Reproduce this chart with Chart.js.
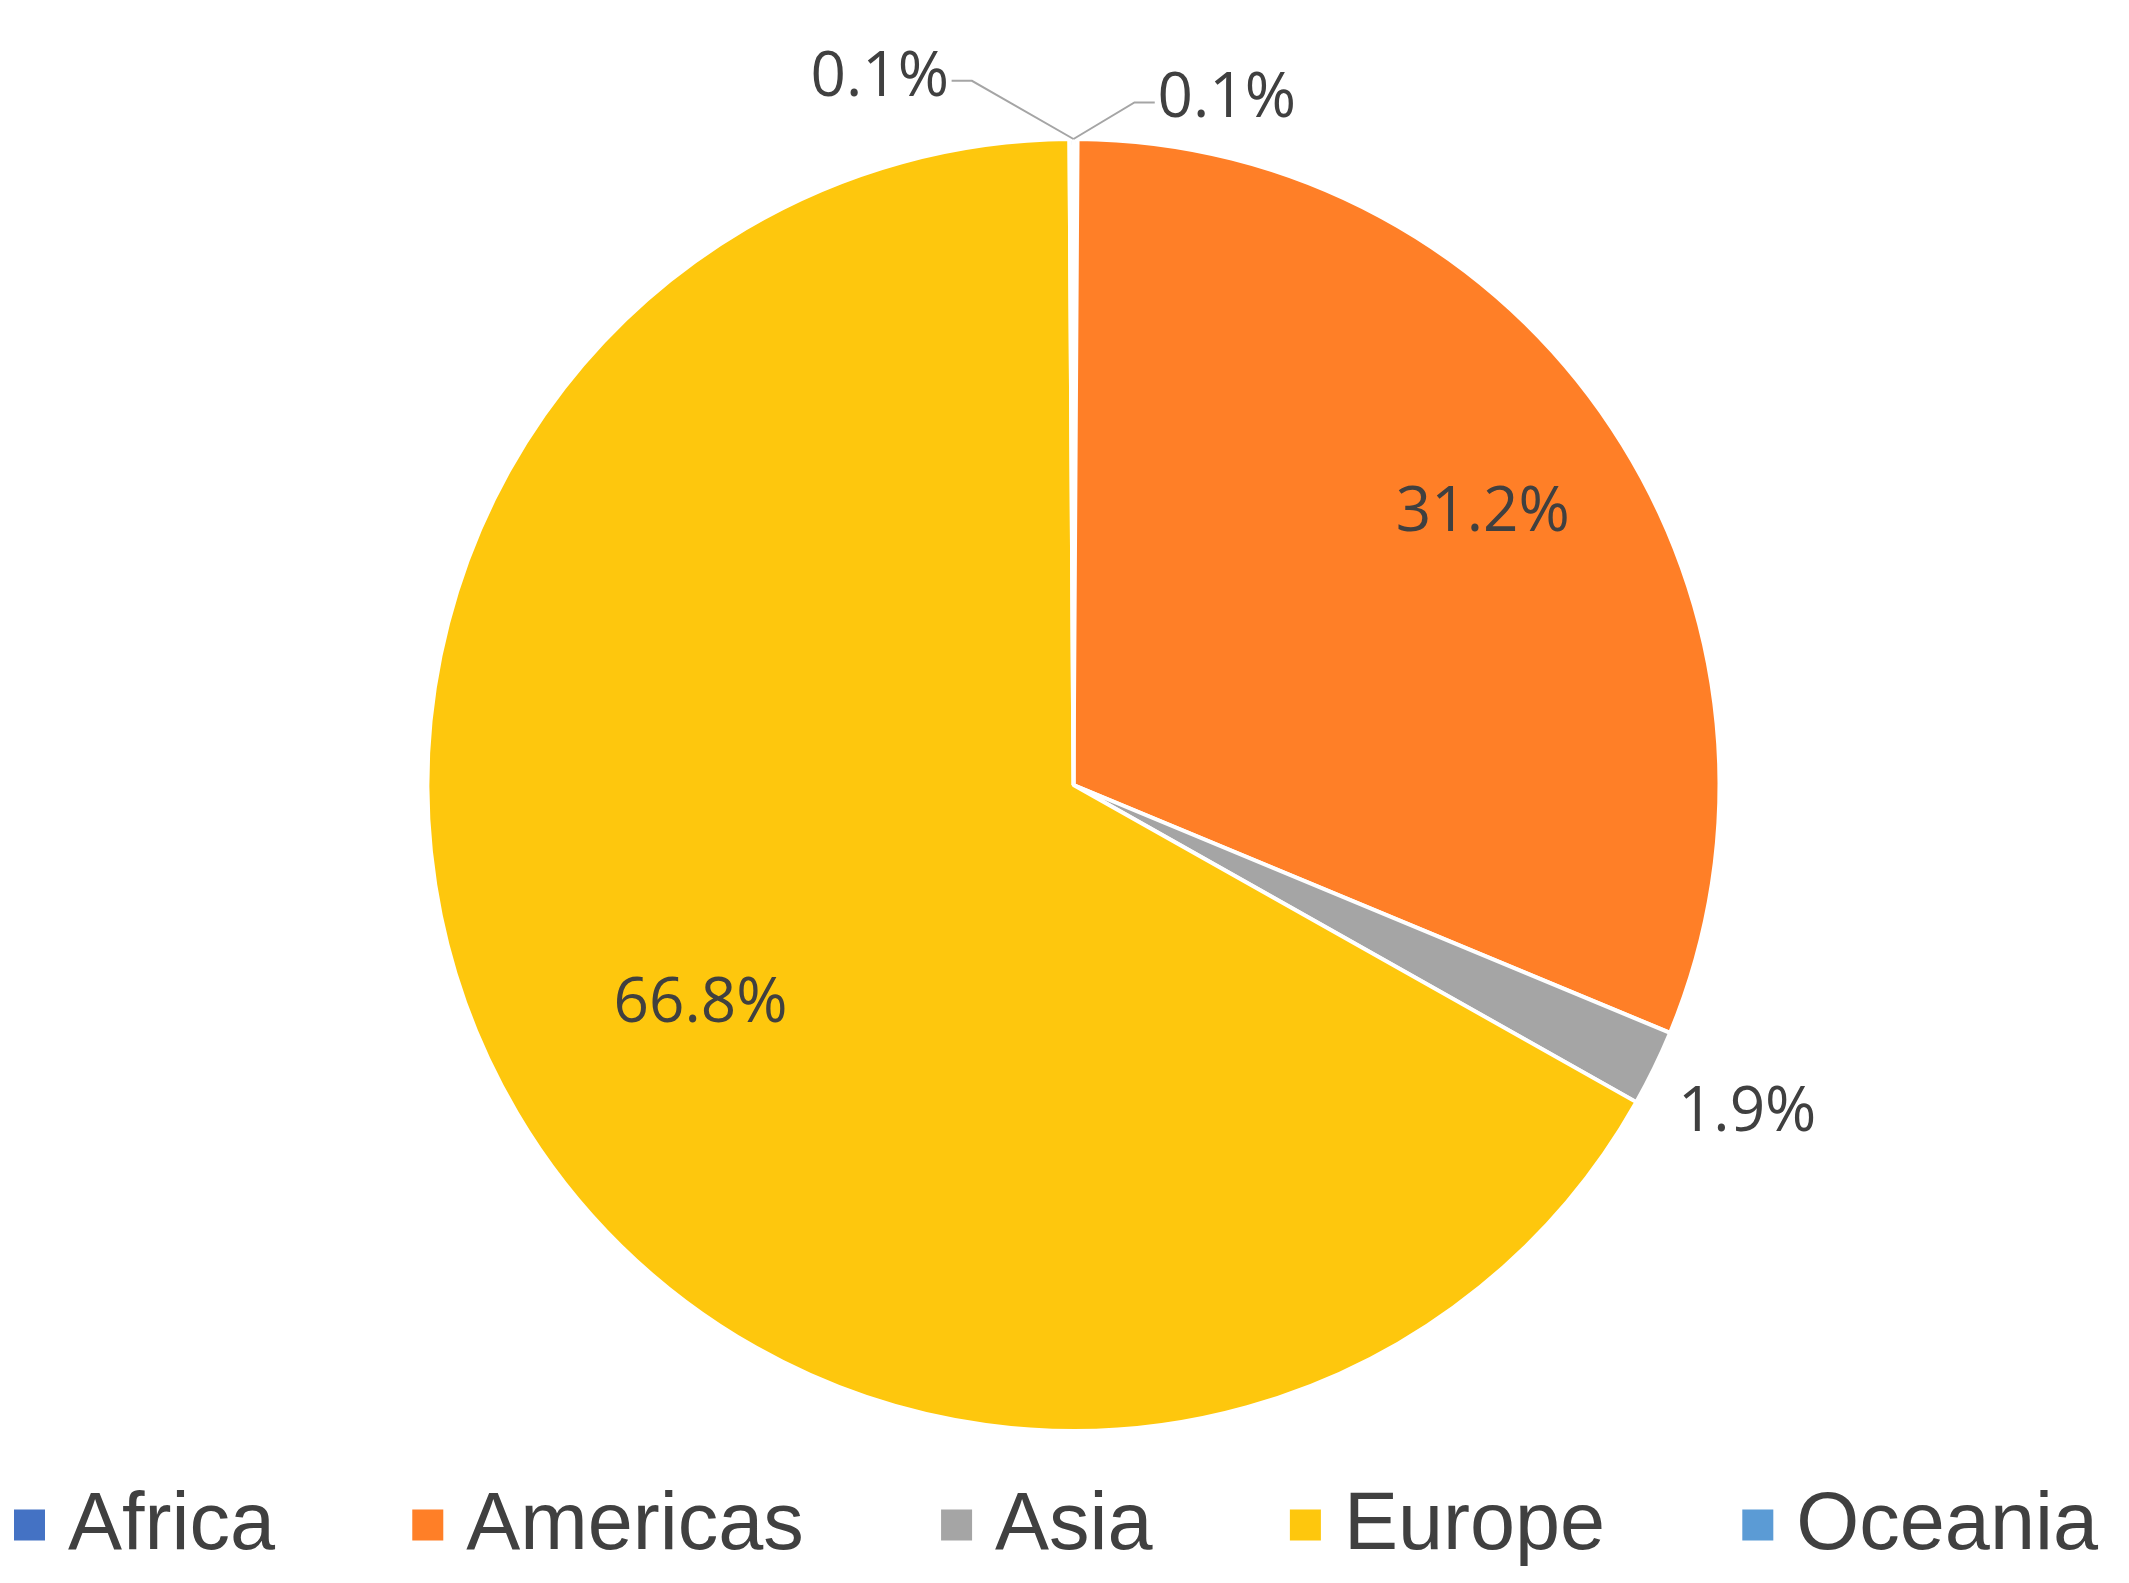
<!DOCTYPE html>
<html><head><meta charset="utf-8">
<script src="https://cdn.jsdelivr.net/npm/chart.js@4"></script>
<style>html,body{margin:0;padding:0;background:#fff}#c{display:block}</style>
</head><body>
<div style="width:2129px;height:1583px"><canvas id="c" width="2129" height="1583"></canvas></div>
<script>
const categories = ["Africa", "Americas", "Asia", "Europe", "Oceania"];
const values = [0.1, 31.2, 1.9, 66.8, 0.1];
const labels = ["0.1%", "31.2%", "1.9%", "66.8%", "0.1%"];
const colors = ["#4472C4", "#FF7F27", "#A5A5A5", "#FEC70D", "#5B9BD5"];

const labelPlugin = {
  id: 'lbl',
  afterDraw(chart) {
    const ctx = chart.ctx;
    const arcs = chart.getDatasetMeta(0).data;
    const a0 = arcs[0];
    const cx = a0.x, cy = a0.y, R = a0.outerRadius;
    ctx.save();
    ctx.fillStyle = '#404040';
    ctx.font = '62px "Open Sans"';
    ctx.textBaseline = 'middle';
    ctx.textAlign = 'center';
    arcs.forEach((a, i) => {
      const mid = (a.startAngle + a.endAngle) / 2;
      if (i === 1 || i === 3) {
        const f = i === 1 ? 0.76 : 0.67;
        ctx.fillText(labels[i], cx + Math.cos(mid) * R * f, cy + Math.sin(mid) * R * f);
      } else if (i === 2) {
        ctx.fillText(labels[i], cx + Math.cos(mid) * R * 1.16, cy + Math.sin(mid) * R * 1.16);
      }
    });
    // small slices at top with leader lines
    const topY = cy - R;
    ctx.strokeStyle = '#A5A5A5';
    ctx.lineWidth = 2;
    const s = R / 477;
    ctx.beginPath();
    ctx.moveTo(cx, topY); ctx.lineTo(cx + 45 * s, topY - 27 * s); ctx.lineTo(cx + 60 * s, topY - 27 * s);
    ctx.moveTo(cx, topY); ctx.lineTo(cx - 75 * s, topY - 43 * s); ctx.lineTo(cx - 90 * s, topY - 43 * s);
    ctx.stroke();
    ctx.textAlign = 'left';
    ctx.fillText(labels[0], cx + 62 * s, topY - 29 * s);
    ctx.textAlign = 'right';
    ctx.fillText(labels[4], cx - 92 * s, topY - 45 * s);
    // legend
    ctx.font = '81px "Liberation Sans", Arial';
    ctx.textAlign = 'left';
    const box = 31, bgap = 23;
    const widths = categories.map(c => box + bgap + ctx.measureText(c).width);
    const total = widths.reduce((p, q) => p + q, 0);
    const gap = (2084 - total) / (categories.length - 1);
    let x = 14; const ly = 1525;
    categories.forEach((c, i) => {
      ctx.fillStyle = colors[i];
      ctx.fillRect(x, ly - box / 2, box, box);
      ctx.fillStyle = '#404040';
      ctx.fillText(c, x + box + bgap, ly + 2);
      x += widths[i] + gap;
    });
    ctx.restore();
  }
};

new Chart(document.getElementById('c'), {
  type: 'pie',
  data: { labels: categories, datasets: [{ data: values, backgroundColor: colors, borderColor: '#fff', borderWidth: 4 }] },
  options: {
    responsive: false, animation: false,
    layout: { padding: { top: 137, bottom: 150, left: 18, right: 0 } },
    plugins: { legend: { display: false }, tooltip: { enabled: false } }
  },
  plugins: [labelPlugin]
});
</script>
</body></html>
